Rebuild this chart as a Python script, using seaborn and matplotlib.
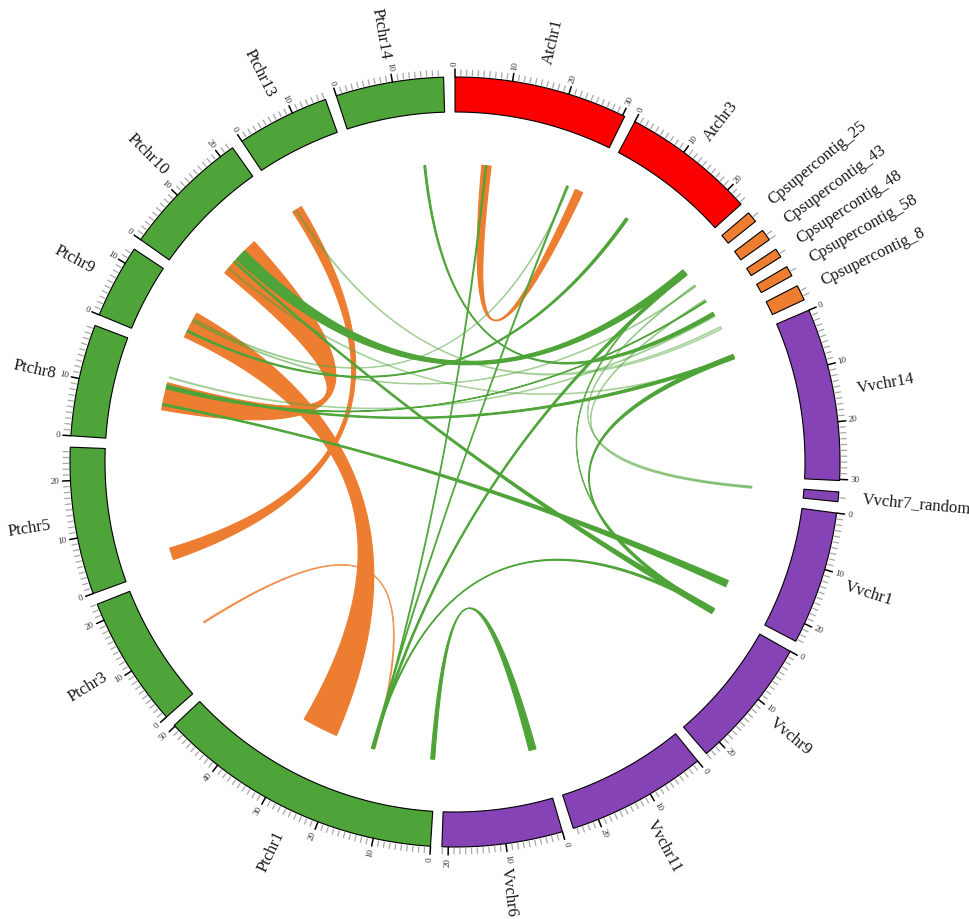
import numpy as np
import seaborn as sns
import matplotlib.pyplot as plt

# chromosomes, clockwise from the top (sizes in Mb)
chroms = ['Atchr1', 'Atchr3', 'Cpsupercontig_25', 'Cpsupercontig_43', 'Cpsupercontig_48',
          'Cpsupercontig_58', 'Cpsupercontig_8', 'Vvchr14', 'Vvchr7_random', 'Vvchr1',
          'Vvchr9', 'Vvchr11', 'Vvchr6', 'Ptchr1', 'Ptchr3', 'Ptchr5', 'Ptchr8', 'Ptchr9',
          'Ptchr10', 'Ptchr13', 'Ptchr14']
lengths = [30.4, 23.4, 1.9, 2.0, 1.6, 1.8, 2.7, 30.2, 1.7, 23.4,
           23.0, 24.6, 21.1, 50.2, 23.0, 25.8, 19.6, 12.9, 22.6, 16.2, 18.9]

# links: chromosome / start / end (Mb) on both sides
link_chr1 = ['Ptchr10', 'Ptchr9', 'Ptchr13', 'Atchr1', 'Ptchr3',
             'Ptchr10', 'Ptchr10', 'Ptchr8', 'Ptchr1', 'Vvchr6', 'Atchr1', 'Atchr1', 'Cpsupercontig_25',
             'Ptchr14', 'Atchr3', 'Cpsupercontig_25', 'Vvchr14', 'Cpsupercontig_43', 'Cpsupercontig_48',
             'Cpsupercontig_43', 'Cpsupercontig_48', 'Cpsupercontig_58', 'Cpsupercontig_8', 'Vvchr14',
             'Vvchr14', 'Atchr1']
link_s1 = [4.8, 2.7, 0.7, 6.0, 10.2,
           8.8, 7.9, 8.2, 14.3, 0.5, 6.8, 25.6, 0.9,
           13.9, 8.3, 0.6, 2.4, 0.6, 0.6,
           0.9, 1.0, 1.2, 0.2, 2.6,
           3.0, 25.9]
link_e1 = [14.4, 8.7, 3.0, 8.1, 10.5,
           11.5, 8.3, 8.6, 14.6, 2.1, 7.1, 25.9, 1.6,
           14.3, 8.9, 0.9, 3.4, 0.8, 0.8,
           1.1, 1.2, 1.5, 0.9, 3.4,
           3.3, 26.1]
link_chr2 = ['Ptchr8', 'Ptchr1', 'Ptchr5', 'Atchr1', 'Ptchr1',
             'Cpsupercontig_25', 'Vvchr9', 'Vvchr1', 'Vvchr9', 'Ptchr1', 'Ptchr1', 'Ptchr1', 'Ptchr1',
             'Cpsupercontig_58', 'Ptchr9', 'Vvchr9', 'Vvchr9', 'Vvchr7_random', 'Vvchr7_random',
             'Ptchr9', 'Ptchr8', 'Ptchr8', 'Ptchr13', 'Ptchr8',
             'Ptchr10', 'Ptchr9']
link_s2 = [7.2, 23.0, 1.0, 27.7, 13.9,
           0.2, 0.0, 18.4, 0.2, 0.3, 14.0, 14.4, 14.1,
           0.4, 4.0, 0.5, 0.3, 0.2, 0.5,
           6.5, 12.0, 14.5, 1.4, 12.4,
           6.0, 7.0]
link_e2 = [13.4, 31.1, 3.7, 29.5, 14.2,
           1.7, 1.3, 19.9, 0.8, 1.2, 14.3, 14.7, 14.6,
           1.2, 4.4, 0.8, 1.0, 0.4, 0.7,
           6.8, 12.3, 14.8, 1.7, 12.9,
           6.3, 7.3]
link_kind = ['segmental'] * 5 + ['syntenic'] * 21
link_strength = [1, 1, 1, 1, 0.7,
                 1, 1, 1, 1, 1, 0.9, 0.9, 1,
                 1, 1, 0.8, 1, 0.45, 0.45,
                 0.4, 1, 0.35, 0.35, 1,
                 0.35, 0.4]

species_colors = {'At': '#FA0000', 'Cp': '#ED7D31', 'Vv': '#8543B6', 'Pt': '#4EA438'}
kind_colors = {'segmental': '#ED7D31', 'syntenic': '#4EA438'}

sns.set_theme(style='white')
plt.rcParams['font.family'] = ['Liberation Serif', 'DejaVu Serif']

cx, cy = 455, 462
r_out, r_in, r_link = 385, 350, 298
gap = 1.7
scale = (360 - gap * len(chroms)) / sum(lengths)
starts = {}
pos = 0.0
for name, ln in zip(chroms, lengths):
    starts[name] = pos
    pos += ln * scale + gap


def ang(ch, p):
    return starts[ch] + p * scale


def xy(theta, r):
    t = np.radians(theta)
    return cx + r * np.sin(t), cy - r * np.cos(t)


def bezier(p0, p2, n=90):
    t = np.linspace(0, 1, n)[:, None]
    c = np.array([cx, cy])
    return (1 - t) ** 2 * np.array(p0) + 2 * t * (1 - t) * c + t ** 2 * np.array(p2)


fig = plt.figure(figsize=(9.7, 9.19), dpi=100)
ax = fig.add_axes([0, 0, 1, 1])
ax.set_xlim(0, 970)
ax.set_ylim(919, 0)
ax.set_aspect('equal')
ax.axis('off')

# chromosome ring, ticks and labels
for name, ln in zip(chroms, lengths):
    a0, a1 = ang(name, 0), ang(name, ln)
    th = np.linspace(a0, a1, 80)
    xo, yo = xy(th, r_out)
    xi, yi = xy(th[::-1], r_in)
    ax.fill(np.r_[xo, xi], np.r_[yo, yi], facecolor=species_colors[name[:2]],
            edgecolor='black', lw=0.8, zorder=3)

    first = 0 if ln >= 5 else 1
    for m in range(first, int(ln) + 1):
        a = ang(name, m)
        if m % 10 == 0:
            x0, y0 = xy(a, r_out)
            x1, y1 = xy(a, r_out + 8)
            ax.plot([x0, x1], [y0, y1], color='black', lw=1.1, zorder=3)
            rot = 90 - a
            ha = 'left'
            if a > 180:
                rot += 180
                ha = 'right'
            tx, ty = xy(a, r_out + 11)
            ax.text(tx, ty, str(m), rotation=rot, rotation_mode='anchor', ha=ha,
                    va='center', fontsize=6.5, color='#333333')
        else:
            x0, y0 = xy(a, r_out + 1.5)
            x1, y1 = xy(a, r_out + 7)
            ax.plot([x0, x1], [y0, y1], color='#A8A8A8', lw=0.9, zorder=3)

    mid = (a0 + a1) / 2
    rot = 90 - mid
    ha = 'left'
    if mid > 180:
        rot += 180
        ha = 'right'
    tx, ty = xy(mid, r_out + 24)
    ax.text(tx, ty, name, rotation=rot, rotation_mode='anchor', ha=ha, va='center',
            fontsize=12, color='#1A1A1A')

# links as ribbons (quadratic curves through the centre)
order = sorted(range(len(link_kind)), key=lambda i: link_kind[i] == 'syntenic')
for i in order:
    a1, a2 = ang(link_chr1[i], link_s1[i]), ang(link_chr1[i], link_e1[i])
    b1, b2 = ang(link_chr2[i], link_s2[i]), ang(link_chr2[i], link_e2[i])
    arc_a = np.column_stack(xy(np.linspace(a1, a2, 20), r_link))
    arc_b = np.column_stack(xy(np.linspace(b1, b2, 20), r_link))
    c1 = bezier(arc_a[-1], arc_b[0])
    c2 = bezier(arc_b[-1], arc_a[0])
    pts = np.vstack([arc_a, c1, arc_b, c2])
    col = kind_colors[link_kind[i]]
    ax.fill(pts[:, 0], pts[:, 1], facecolor=col, edgecolor=col, lw=0.8,
            alpha=link_strength[i], zorder=2)

fig.savefig('out.png', dpi=100, facecolor='white')
